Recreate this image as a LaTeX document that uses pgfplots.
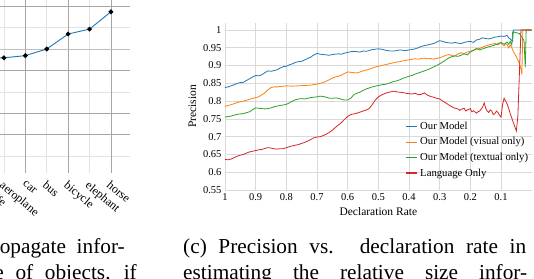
\documentclass[border=0pt]{standalone}
\usepackage{fontspec}
\setmainfont{Liberation Serif}
\usepackage{pgfplots}
\pgfplotsset{compat=1.18}
\definecolor{cblue}{HTML}{1F77B4}
\definecolor{corange}{HTML}{FF7F0E}
\definecolor{cgreen}{HTML}{2CA02C}
\definecolor{cred}{HTML}{D62728}
\pgfplotsset{
  thinlegend/.style={legend image code/.code={\draw[##1,line width=0.8pt] (0pt,0pt) -- (11pt,0pt);}},
  thicklegend/.style={legend image code/.code={\draw[##1,line width=2pt] (0pt,0pt) -- (11pt,0pt);}},
}
\begin{document}
\begin{tikzpicture}
\useasboundingbox (0,0) rectangle (534pt,278pt);
\clip (0,0) rectangle (534pt,278pt);
% ---------------- left (partial) chart ----------------
\begin{axis}[
  at={(-36.7pt,105pt)}, anchor=south west, scale only axis,
  width=166.7pt, height=173pt,
  xmin=-0.9, xmax=6.89, ymin=-0.794, ymax=7.29,
  axis line style={draw=none},
  major tick length=0pt, minor tick length=0pt,
  xtick={0,1,2,3,4,5,6},
  xticklabels={giraffe,aeroplane,car,bus,bicycle,elephant,horse},
  xticklabel style={rotate=-40, anchor=north west, inner sep=1pt, yshift=-4pt, xshift=4pt, font=\fontsize{12}{14}\selectfont},
  xmajorgrids=false,
  minor xtick={1,3,5}, xminorgrids=true,
  extra x ticks={0,2,4,6}, extra x tick labels={},
  extra x tick style={grid=major, major grid style={gray!70, line width=0.6pt}},
  ytick={1,2,4,7}, yticklabels={}, ymajorgrids=true,
  major grid style={gray!70, line width=0.6pt},
  minor ytick={0,3,6}, yminorgrids=true,
  minor grid style={gray!22, line width=0.6pt},
  extra y ticks={5}, extra y tick labels={},
  extra y tick style={grid=major, major grid style={gray!50, line width=0.6pt}},
]
\addplot[cblue, line width=0.9pt, mark=*, mark size=1.9pt, mark options={black, fill=black}]
  coordinates {(0,4.55) (1,4.59) (2,4.69) (3,5.00) (4,5.70) (5,5.93) (6,6.74)};
\end{axis}
% ---------------- right chart ----------------
\begin{axis}[
  at={(225pt,88pt)}, anchor=south west, scale only axis,
  width=306.7pt, height=167.1pt,
  xmin=0, xmax=1, x dir=reverse, ymin=0.55, ymax=1.02,
  xtick={0.1,0.2,0.3,0.4,0.5,0.6,0.7,0.8,0.9,1},
  ytick={0.55,0.6,0.65,0.7,0.75,0.8,0.85,0.9,0.95,1},
  xticklabel={\pgfmathprintnumber[assume math mode=true]{\tick}},
  yticklabel={\pgfmathprintnumber[assume math mode=true]{\tick}},
  grid=major, major grid style={gray!30, line width=0.6pt},
  axis line style={draw=none}, major tick length=0pt,
  tick label style={font=\fontsize{10.5}{12}\selectfont},
  label style={font=\fontsize{11.5}{13}\selectfont},
  xlabel={Declaration Rate}, ylabel={Precision},
  legend cell align=left,
  legend style={at={(0.587,0.42)}, anchor=north west, draw=none, fill=none,
    inner sep=0pt, row sep=2.6pt, font=\fontsize{10.7}{12}\selectfont},
  thinlegend,
]
\addplot[cblue, line width=0.8pt] coordinates {
(1.00,0.838)(0.99,0.840)(0.98,0.843)(0.97,0.846)(0.96,0.850)(0.95,0.852)(0.94,0.853)(0.93,0.858)(0.92,0.863)(0.91,0.868)
(0.90,0.872)(0.89,0.871)(0.88,0.874)(0.87,0.880)(0.86,0.885)(0.85,0.884)(0.84,0.886)(0.83,0.888)(0.82,0.893)(0.81,0.897)
(0.80,0.898)(0.79,0.902)(0.78,0.905)(0.77,0.909)(0.76,0.911)(0.75,0.912)(0.74,0.916)(0.73,0.920)(0.72,0.924)(0.71,0.930)
(0.70,0.934)(0.69,0.932)(0.68,0.931)(0.67,0.930)(0.66,0.929)(0.65,0.931)(0.64,0.932)(0.63,0.933)(0.62,0.932)(0.61,0.935)
(0.60,0.937)(0.59,0.939)(0.58,0.940)(0.57,0.939)(0.56,0.938)(0.55,0.941)(0.54,0.940)(0.53,0.942)(0.52,0.945)(0.51,0.946)
(0.50,0.947)(0.49,0.946)(0.48,0.944)(0.47,0.942)(0.46,0.941)(0.45,0.941)(0.44,0.942)(0.43,0.944)(0.42,0.943)(0.41,0.942)
(0.40,0.944)(0.39,0.945)(0.38,0.947)(0.37,0.950)(0.36,0.954)(0.35,0.956)(0.34,0.958)(0.33,0.960)(0.32,0.962)(0.31,0.966)
(0.30,0.970)(0.29,0.968)(0.28,0.965)(0.27,0.964)(0.26,0.963)(0.25,0.965)(0.24,0.963)(0.23,0.962)(0.22,0.965)(0.21,0.967)
(0.20,0.968)(0.19,0.965)(0.18,0.972)(0.17,0.974)(0.16,0.978)(0.15,0.976)(0.14,0.975)(0.13,0.977)(0.12,0.980)(0.11,0.981)
(0.10,0.983)(0.09,0.982)(0.08,0.985)(0.075,0.978)(0.07,0.975)(0.065,0.970)(0.062,0.968)(0.060,1.0)(0.0,1.0)};
\addlegendentry{Our Model}
\addplot[corange, line width=0.8pt] coordinates {
(1.00,0.785)(0.98,0.790)(0.96,0.796)(0.94,0.800)(0.92,0.805)(0.90,0.810)(0.89,0.812)(0.88,0.818)(0.87,0.823)(0.86,0.832)
(0.85,0.838)(0.84,0.840)(0.83,0.840)(0.82,0.841)(0.80,0.843)(0.78,0.842)(0.76,0.843)(0.74,0.844)(0.72,0.845)(0.70,0.848)
(0.68,0.852)(0.67,0.856)(0.66,0.860)(0.65,0.865)(0.64,0.868)(0.63,0.870)(0.62,0.873)(0.61,0.878)(0.60,0.882)(0.59,0.881)
(0.58,0.880)(0.57,0.879)(0.56,0.882)(0.55,0.885)(0.54,0.887)(0.53,0.890)(0.52,0.893)(0.51,0.896)(0.50,0.898)(0.49,0.900)
(0.48,0.902)(0.47,0.904)(0.46,0.906)(0.45,0.908)(0.44,0.910)(0.43,0.911)(0.42,0.913)(0.41,0.915)(0.40,0.916)(0.39,0.918)
(0.38,0.919)(0.37,0.918)(0.36,0.920)(0.35,0.921)(0.34,0.919)(0.33,0.920)(0.32,0.918)(0.31,0.920)(0.30,0.922)(0.29,0.925)
(0.28,0.929)(0.27,0.931)(0.26,0.928)(0.25,0.927)(0.24,0.933)(0.23,0.936)(0.22,0.934)(0.21,0.938)(0.20,0.940)(0.19,0.943)
(0.18,0.946)(0.17,0.948)(0.16,0.952)(0.15,0.955)(0.14,0.958)(0.13,0.960)(0.12,0.962)(0.11,0.958)(0.10,0.964)(0.09,0.955)
(0.085,0.962)(0.08,0.958)(0.075,0.950)(0.07,0.958)(0.065,0.950)(0.06,0.940)(0.05,0.925)(0.045,0.915)(0.04,0.905)(0.035,0.890)
(0.032,0.875)(0.029,1.0)(0.0,1.0)};
\addlegendentry{Our Model (visual only)}
\addplot[cgreen, line width=0.8pt] coordinates {
(1.00,0.755)(0.98,0.758)(0.96,0.763)(0.94,0.765)(0.92,0.770)(0.91,0.776)(0.90,0.781)(0.89,0.780)(0.88,0.779)(0.87,0.778)
(0.86,0.779)(0.85,0.781)(0.84,0.784)(0.83,0.786)(0.82,0.788)(0.81,0.789)(0.80,0.791)(0.79,0.795)(0.78,0.800)(0.77,0.804)
(0.76,0.806)(0.75,0.807)(0.74,0.806)(0.73,0.808)(0.72,0.810)(0.71,0.811)(0.70,0.812)(0.69,0.814)(0.68,0.813)(0.67,0.811)
(0.66,0.808)(0.65,0.808)(0.64,0.809)(0.63,0.808)(0.62,0.805)(0.61,0.803)(0.60,0.803)(0.59,0.808)(0.58,0.818)(0.57,0.822)
(0.56,0.825)(0.55,0.830)(0.54,0.834)(0.53,0.837)(0.52,0.840)(0.51,0.842)(0.50,0.844)(0.49,0.846)(0.48,0.847)(0.47,0.849)
(0.46,0.852)(0.45,0.855)(0.44,0.857)(0.43,0.860)(0.42,0.864)(0.41,0.867)(0.40,0.870)(0.39,0.872)(0.38,0.876)(0.37,0.879)
(0.36,0.882)(0.35,0.885)(0.34,0.888)(0.33,0.892)(0.32,0.896)(0.31,0.900)(0.30,0.905)(0.29,0.910)(0.28,0.916)(0.27,0.922)
(0.26,0.925)(0.25,0.927)(0.24,0.926)(0.23,0.929)(0.22,0.933)(0.21,0.930)(0.20,0.938)(0.19,0.943)(0.18,0.948)(0.17,0.944)
(0.16,0.947)(0.15,0.950)(0.14,0.953)(0.13,0.955)(0.12,0.958)(0.11,0.962)(0.10,0.965)(0.09,0.960)(0.08,0.966)(0.075,0.960)
(0.07,0.968)(0.065,0.958)(0.062,0.995)(0.04,0.99)(0.025,0.97)(0.021,0.895)(0.018,1.0)(0.0,1.0)};
\addlegendentry{Our Model (textual only)}
\addplot[cred, line width=0.8pt, thicklegend] coordinates {
(1.00,0.636)(0.99,0.635)(0.98,0.637)(0.97,0.641)(0.96,0.645)(0.95,0.648)(0.94,0.650)(0.93,0.654)(0.92,0.657)(0.91,0.659)
(0.90,0.661)(0.89,0.663)(0.88,0.664)(0.87,0.667)(0.86,0.669)(0.85,0.668)(0.84,0.666)(0.83,0.665)(0.82,0.666)(0.81,0.666)
(0.80,0.669)(0.79,0.672)(0.78,0.674)(0.77,0.676)(0.76,0.678)(0.75,0.681)(0.74,0.684)(0.73,0.688)(0.72,0.692)(0.71,0.697)
(0.70,0.699)(0.69,0.700)(0.68,0.703)(0.67,0.707)(0.66,0.712)(0.65,0.718)(0.64,0.726)(0.63,0.733)(0.62,0.740)(0.61,0.749)
(0.60,0.757)(0.59,0.762)(0.58,0.764)(0.57,0.766)(0.56,0.769)(0.55,0.772)(0.54,0.775)(0.53,0.779)(0.52,0.790)(0.51,0.803)
(0.50,0.812)(0.49,0.817)(0.48,0.821)(0.47,0.824)(0.46,0.826)(0.45,0.828)(0.44,0.826)(0.43,0.825)(0.42,0.824)(0.41,0.822)
(0.40,0.821)(0.39,0.820)(0.38,0.822)(0.37,0.818)(0.36,0.819)(0.35,0.823)(0.34,0.817)(0.33,0.813)(0.32,0.811)(0.31,0.808)
(0.30,0.806)(0.29,0.800)(0.28,0.795)(0.27,0.789)(0.26,0.784)(0.25,0.780)(0.24,0.778)(0.235,0.774)(0.23,0.777)(0.22,0.780)
(0.215,0.772)(0.21,0.775)(0.20,0.779)(0.195,0.770)(0.19,0.773)(0.18,0.766)(0.175,0.770)(0.17,0.772)(0.16,0.783)(0.155,0.795)
(0.15,0.780)(0.145,0.772)(0.14,0.768)(0.135,0.775)(0.13,0.772)(0.125,0.762)(0.12,0.765)(0.115,0.772)(0.11,0.768)(0.105,0.760)
(0.10,0.755)(0.095,0.790)(0.09,0.808)(0.085,0.800)(0.08,0.792)(0.07,0.765)(0.06,0.740)(0.05,0.716)(0.045,0.760)(0.04,0.880)
(0.035,1.0)(0.0,1.0)};
\addlegendentry{Language Only}
\end{axis}
% ---------------- captions ----------------
\begin{scope}[every node/.style={inner sep=0pt, font=\fontsize{21.3}{26}\selectfont}]
\node[anchor=base east] at (125pt,25pt) {\makebox[170pt][s]{to propagate infor-}};
\node[anchor=base east] at (137pt,-1pt) {\makebox[166pt][s]{size of objects, if}};
\node[anchor=base west] at (183pt,25pt) {\makebox[343pt][s]{(c) Precision vs. declaration rate in}};
\node[anchor=base west] at (183pt,-1pt) {\makebox[344pt][s]{estimating the relative size infor-}};
\end{scope}
\end{tikzpicture}
\end{document}
